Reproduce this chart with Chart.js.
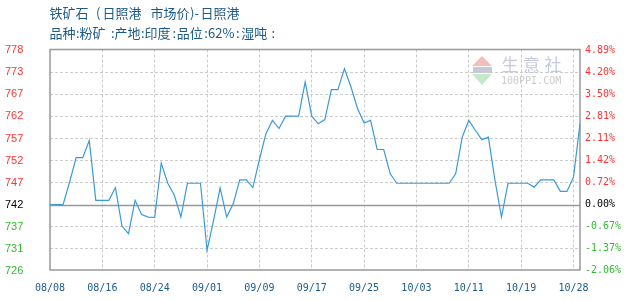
<!DOCTYPE html>
<html><head><meta charset="utf-8">
<script src="https://cdn.jsdelivr.net/npm/chart.js@4/dist/chart.umd.min.js"></script>
<style>
html,body{margin:0;padding:0;background:#fff;}
#wrap{position:relative;width:630px;height:300px;overflow:hidden;background:#fff;}
canvas{position:absolute;left:0;top:0;}
.s{position:absolute;font-family:"Noto Sans CJK SC";font-size:13px;color:#1b5a8a;white-space:pre;line-height:20px;}
.l1{top:3px;}
.l2{top:23px;}
.wm{position:absolute;white-space:pre;}
</style></head><body>
<div id="wrap">
<canvas id="c" width="630" height="300"></canvas>
<span class="s l1" style="left:49.5px">铁矿石</span>
<span class="s l1" style="left:96px">(</span>
<span class="s l1" style="left:102.5px">日照港</span>
<span class="s l1" style="left:150.5px">市场价</span>
<span class="s l1" style="left:190px">)-</span>
<span class="s l1" style="left:200.5px">日照港</span>
<span class="s l2" style="left:49.5px">品种</span>
<span class="s l2" style="left:76px">:</span>
<span class="s l2" style="left:79.5px">粉矿</span>
<span class="s l2" style="left:111px">:</span>
<span class="s l2" style="left:114.5px">产地</span>
<span class="s l2" style="left:141px">:</span>
<span class="s l2" style="left:144.5px">印度</span>
<span class="s l2" style="left:172.5px">:</span>
<span class="s l2" style="left:176.8px">品位</span>
<span class="s l2" style="left:204.3px">:</span>
<span class="s l2" style="left:208px">62%</span>
<span class="s l2" style="left:236px">:</span>
<span class="s l2" style="left:241.2px">湿吨</span>
<span class="s l2" style="left:271.6px">:</span>
<div class="wm" style="left:472px;top:56px;width:0;height:0;border-left:10.5px solid transparent;border-right:10.5px solid transparent;border-bottom:10px solid #f5bcbc;"></div>
<div class="wm" style="left:473px;top:66.5px;width:19px;height:6px;background:#c9c9d6;"></div>
<div class="wm" style="left:472px;top:73.5px;width:0;height:0;border-left:10.5px solid transparent;border-right:10.5px solid transparent;border-top:11px solid #c4e8c8;"></div>
<div class="wm" style="left:501.5px;top:53px;font-family:'Noto Sans CJK SC';font-size:17px;line-height:22px;letter-spacing:4.5px;color:#c6cadf;">生意社</div>
<div class="wm" style="left:501px;top:75px;font-family:'DejaVu Sans Mono';font-size:10px;line-height:11px;color:#cccccc;">100PPI.COM</div>
</div>
<script>
const dates = ["08/08","08/09","08/10","08/11","08/12","08/13","08/14","08/15","08/16","08/17","08/18","08/19","08/20","08/21","08/22","08/23","08/24","08/25","08/26","08/27","08/28","08/29","08/30","08/31",
"09/01","09/02","09/03","09/04","09/05","09/06","09/07","09/08","09/09","09/10","09/11","09/12","09/13","09/14","09/15","09/16","09/17","09/18","09/19","09/20","09/21","09/22","09/23","09/24","09/25","09/26","09/27","09/28","09/29","09/30",
"10/01","10/02","10/03","10/04","10/05","10/06","10/07","10/08","10/09","10/10","10/11","10/12","10/13","10/14","10/15","10/16","10/17","10/18","10/19","10/20","10/21","10/22","10/23","10/24","10/25","10/27","10/28","10/29"];
const prices = [742,742,742,747.3,753,753,757,743,743,743,
746,737,735.2,743,739.7,739.1,739,751.7,747,744.2,
739.1,747,747,747,731.3,738.3,745.9,739.1,742.2,747.8,
747.8,746,752.5,758.6,761.7,759.8,762.7,762.7,762.7,770.7,
762.7,760.9,761.9,768.9,768.9,773.8,769.5,764.5,761.1,761.7,
754.9,754.9,749.2,747,747,747,747,747,747,747,
747,747,749.2,757.8,761.7,759.4,757.2,757.8,747.7,739.1,
747,747,747,747,746.1,747.8,747.8,747.8,745.1,745.1,
748.4,760.9];
const tickDates = ["08/08","08/16","08/24","09/01","09/09","09/17","09/25","10/03","10/11","10/19","10/28"];
const leftLabels = ["726","731","737","742","747","752","757","762","767","773","778"];
const rightLabels = ["-2.06%","-1.37%","-0.67%","0.00%","0.72%","1.42%","2.11%","2.81%","3.50%","4.20%","4.89%"];
const basePrice = 742;
const topPct = 4.89, bottomPct = -2.06;

const yMax = basePrice*(1+topPct/100);
const yMin = basePrice*(1+bottomPct/100);
const step = (yMax-yMin)/(leftLabels.length-1);
const baseIdx = leftLabels.indexOf(String(basePrice));
const tickVals = leftLabels.map((_,i)=>basePrice+(i-baseIdx)*step);

function tickColor(ctx){
  const i = ctx.index;
  if (i === baseIdx) return '#000000';
  return i > baseIdx ? '#ff3333' : '#33bb33';
}
const frame = {
  id:'frame',
  beforeDatasetsDraw(chart){
    const {ctx, chartArea:a, scales} = chart;
    const yb = Math.round(scales.y.getPixelForValue(basePrice))+0.5;
    ctx.save();
    ctx.strokeStyle='#999999';
    ctx.lineWidth=1.5;
    ctx.beginPath();ctx.moveTo(a.left,yb);ctx.lineTo(a.right,yb);ctx.stroke();
    ctx.strokeRect(a.left,a.top,a.right-a.left,a.bottom-a.top);
    ctx.restore();
  }
};
new Chart(document.getElementById('c'),{
  type:'line',
  data:{labels:dates,datasets:[{data:prices,borderColor:'#3a9ad9',borderWidth:1.2,pointRadius:0,tension:0,fill:false}]},
  options:{
    responsive:false,animation:false,devicePixelRatio:1,
    layout:{padding:{left:5,right:0,top:49.5,bottom:0}},
    plugins:{legend:{display:false},tooltip:{enabled:false}},
    scales:{
      x:{
        type:'category',offset:false,
        afterBuildTicks(s){ s.ticks = s.ticks.filter(t=>tickDates.includes(dates[t.value])); },
        afterFit(s){ s.height=30; },
        ticks:{autoSkip:false,maxRotation:0,color:'#1a5c8c',font:{family:'DejaVu Sans Mono',size:10},padding:12,
          callback(v){return dates[v];}},
        grid:{color(c){return c.index===0?'rgba(0,0,0,0)':'#cccccc';},lineWidth:1,drawTicks:false},
        border:{display:false,dash:[3,2]}
      },
      y:{
        position:'left',min:yMin,max:yMax,
        afterBuildTicks(s){ s.ticks = tickVals.map(v=>({value:v})); },
        afterFit(s){ s.width=45; },
        ticks:{color:tickColor,crossAlign:'far',font:{family:'Liberation Sans',size:11},padding:0,
          callback(v,i){return leftLabels[i];}},
        grid:{color(c){return (c.index===baseIdx||c.index===0||c.index===leftLabels.length-1)?'rgba(0,0,0,0)':'#cccccc';},lineWidth:1,drawTicks:false},
        border:{display:false,dash:[3,2]}
      },
      y2:{
        position:'right',min:yMin,max:yMax,
        afterBuildTicks(s){ s.ticks = tickVals.map(v=>({value:v})); },
        afterFit(s){ s.width=50; },
        ticks:{color:tickColor,font:{family:'DejaVu Sans Mono',size:10},padding:5,
          callback(v,i){return rightLabels[i];}},
        grid:{display:false,drawTicks:false},
        border:{display:false}
      }
    }
  },
  plugins:[frame]
});
</script>
</body></html>
